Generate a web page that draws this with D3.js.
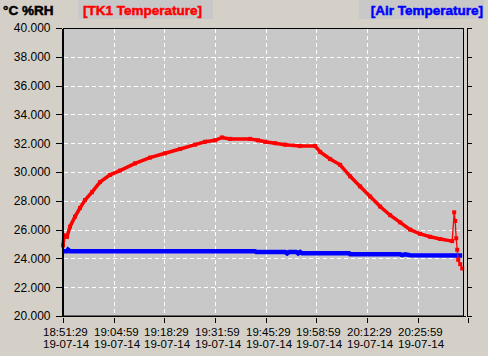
<!DOCTYPE html>
<html><head><meta charset="utf-8">
<script src="https://cdn.jsdelivr.net/npm/d3@7"></script>
<style>
html,body{margin:0;padding:0;background:#d4d0c8;}
svg{display:block;font-family:"Liberation Sans",Arial,sans-serif;}
.ttl{font-size:13.5px;font-weight:700;stroke-width:0.5px;}
</style></head>
<body><svg id="c" width="488" height="356"></svg>
<script>
// ---- data ----
const startTime = "18:51:29";
const tickTimes = ["18:51:29","19:04:59","19:18:29","19:31:59","19:45:29","19:58:59","20:12:29","20:25:59","20:39:29"];
const tickTimeLabels = ["18:51:29","19:04:59","19:18:29","19:31:59","19:45:29","19:58:59","20:12:29","20:25:59",""];
const tickDateLabels = ["19-07-14","19-07-14","19-07-14","19-07-14","19-07-14","19-07-14","19-07-14","19-07-14",""];
const yTicks = [20,22,24,26,28,30,32,34,36,38,40];
const yTickLabels = ["20.000","22.000","24.000","26.000","28.000","30.000","32.000","34.000","36.000","38.000","40.000"];

const tk1Times = ["18:51:29","18:51:45","18:52:33","18:53:21","18:54:41","18:56:01","18:57:21","18:59:13","19:01:21","19:04:01","19:06:41","19:10:41","19:14:41","19:18:41","19:22:41","19:26:41","19:29:21","19:32:01","19:33:53","19:36:01","19:41:21","19:43:29","19:45:21","19:48:01","19:50:41","19:54:41","19:58:41","20:00:01","20:02:41","20:05:21","20:08:01","20:10:41","20:13:21","20:16:01","20:18:41","20:21:21","20:24:01","20:26:41","20:29:21","20:32:01","20:35:13","20:35:45","20:36:01","20:36:17","20:36:33","20:36:49","20:37:21","20:37:53"];
const tk1Values = [24.9,25.6,25.5,26.2,26.9,27.5,28.05,28.6,29.3,29.8,30.1,30.6,31.0,31.3,31.6,31.9,32.1,32.2,32.4,32.3,32.3,32.2,32.1,32.0,31.9,31.8,31.8,31.4,30.9,30.5,29.7,29.0,28.3,27.6,27.0,26.5,26.0,25.7,25.5,25.35,25.2,27.2,26.6,25.4,24.6,23.9,23.6,23.3];
const tk1DenseCount = 41; // samples before the spike

const airTimes = ["18:51:29","18:52:33","18:52:49","18:53:21","19:42:41","19:42:57","19:50:41","19:51:13","19:51:45","19:53:37","19:54:09","19:54:41","19:55:13","20:07:45","20:08:01","20:21:21","20:21:53","20:22:41","20:24:01","20:37:53"];
const airValues = [24.5,24.5,24.6,24.5,24.5,24.45,24.45,24.35,24.45,24.45,24.35,24.45,24.35,24.35,24.28,24.28,24.22,24.28,24.22,24.2];

// ---- chart ----
const svg = d3.select("#c");
const parse = d3.timeParse("%H:%M:%S");
const t0 = parse(startTime);
const x = d3.scaleTime().domain([t0, parse(tickTimes[tickTimes.length-1])]).range([63, 468.2]);
const y = d3.scaleLinear().domain([20, 40]).range([316, 28]);
const plotL = 63, plotR = 464, plotT = 28, plotB = 316;

svg.append("rect").attr("x", plotL).attr("y", plotT).attr("width", plotR-plotL).attr("height", plotB-plotT)
  .attr("fill", "#c8c8c8");

// grid
const g = svg.append("g");
yTicks.slice(1, -1).forEach(v => {
  g.append("line").attr("x1", plotL+1).attr("x2", plotR).attr("y1", Math.round(y(v))+0.5).attr("y2", Math.round(y(v))+0.5)
   .attr("stroke", "#fff").attr("stroke-dasharray", "4,3");
});
tickTimes.slice(1, -1).forEach(s => {
  const xx = Math.round(x(parse(s)))+0.5;
  g.append("line").attr("x1", xx).attr("x2", xx).attr("y1", plotT+1).attr("y2", plotB)
   .attr("stroke", "#fff").attr("stroke-dasharray", "4,3");
});

// series
const air = airTimes.map((s,i)=>({t:parse(s), v:airValues[i]}));
const tk1 = tk1Times.map((s,i)=>({t:parse(s), v:tk1Values[i]}));
const line = d3.line().x(d=>x(d.t)).y(d=>y(d.v));
svg.append("path").datum(air).attr("d", line).attr("fill","none").attr("stroke","#0000ff").attr("stroke-width",4.5);
svg.append("path").datum(tk1).attr("d", line).attr("fill","none").attr("stroke","#ff0000").attr("stroke-width",1.3);
svg.append("path").datum(tk1.slice(0, tk1DenseCount)).attr("d", line).attr("fill","none").attr("stroke","#ff0000").attr("stroke-width",3.5);
svg.append("g").selectAll("rect").data(tk1).join("rect")
  .attr("x", d=>x(d.t)-2).attr("y", d=>y(d.v)-2).attr("width",4).attr("height",4).attr("fill","#ff0000");

// plot border
svg.append("rect").attr("x", plotL+0.5).attr("y", plotT+0.5).attr("width", plotR-plotL-1).attr("height", plotB-plotT-0.5)
  .attr("fill","none").attr("stroke","#000");
svg.append("line").attr("x1", plotL).attr("x2", 466).attr("y1", 316.5).attr("y2", 316.5).attr("stroke","#000");

// left axis
const yAxisL = d3.axisLeft(y).tickValues(yTicks).tickFormat((d,i)=>yTickLabels[i]).tickSize(6).tickSizeOuter(0).tickPadding(5);
const gl = svg.append("g").attr("transform","translate(61.5,0)").call(yAxisL);
// right axis
const yAxisR = d3.axisRight(y).tickValues(yTicks).tickFormat("").tickSize(5).tickSizeOuter(0);
const gr = svg.append("g").attr("transform","translate(466.5,0)").call(yAxisR);
[gl, gr].forEach(a => {
  a.selectAll("path,line").attr("stroke","#000").attr("shape-rendering","crispEdges");
  a.selectAll("text").attr("fill","#000").style("font-size","12px").style("font-family",'"Liberation Sans",Arial,sans-serif');
});

// bottom axis
const xAxis = d3.axisBottom(x).tickValues(tickTimes.map(parse)).tickFormat("").tickSize(5).tickSizeOuter(0);
const gb = svg.append("g").attr("transform","translate(0,318)").call(xAxis);
gb.select(".domain").remove();
gb.selectAll("line").attr("stroke","#000").attr("shape-rendering","crispEdges");
tickTimes.forEach((s,i) => {
  if (!tickTimeLabels[i]) return;
  const xx = Math.round(x(parse(s)));
  svg.append("text").attr("x", xx-20).attr("y", 336).attr("font-size", "11.5px").attr("fill","#000").text(tickTimeLabels[i]);
  svg.append("text").attr("x", xx-20).attr("y", 348).attr("font-size", "11.5px").attr("fill","#000").text(tickDateLabels[i]);
});

// titles
svg.append("text").attr("class","ttl").attr("x",3).attr("y",15).attr("fill","#000").attr("stroke","#000").text("°C %RH");
svg.append("rect").attr("x",78).attr("y",0).attr("width",135).attr("height",19).attr("fill","#c8c8c8");
svg.append("text").attr("class","ttl").attr("x",83).attr("y",15).attr("fill","#ff0000").attr("stroke","#ff0000").text("[TK1 Temperature]");
svg.append("rect").attr("x",359).attr("y",0).attr("width",125).attr("height",19).attr("fill","#c8c8c8");
svg.append("text").attr("class","ttl").attr("x",483).attr("y",15).attr("text-anchor","end").attr("fill","#0000ff").attr("stroke","#0000ff").text("[Air Temperature]");
</script></body></html>
